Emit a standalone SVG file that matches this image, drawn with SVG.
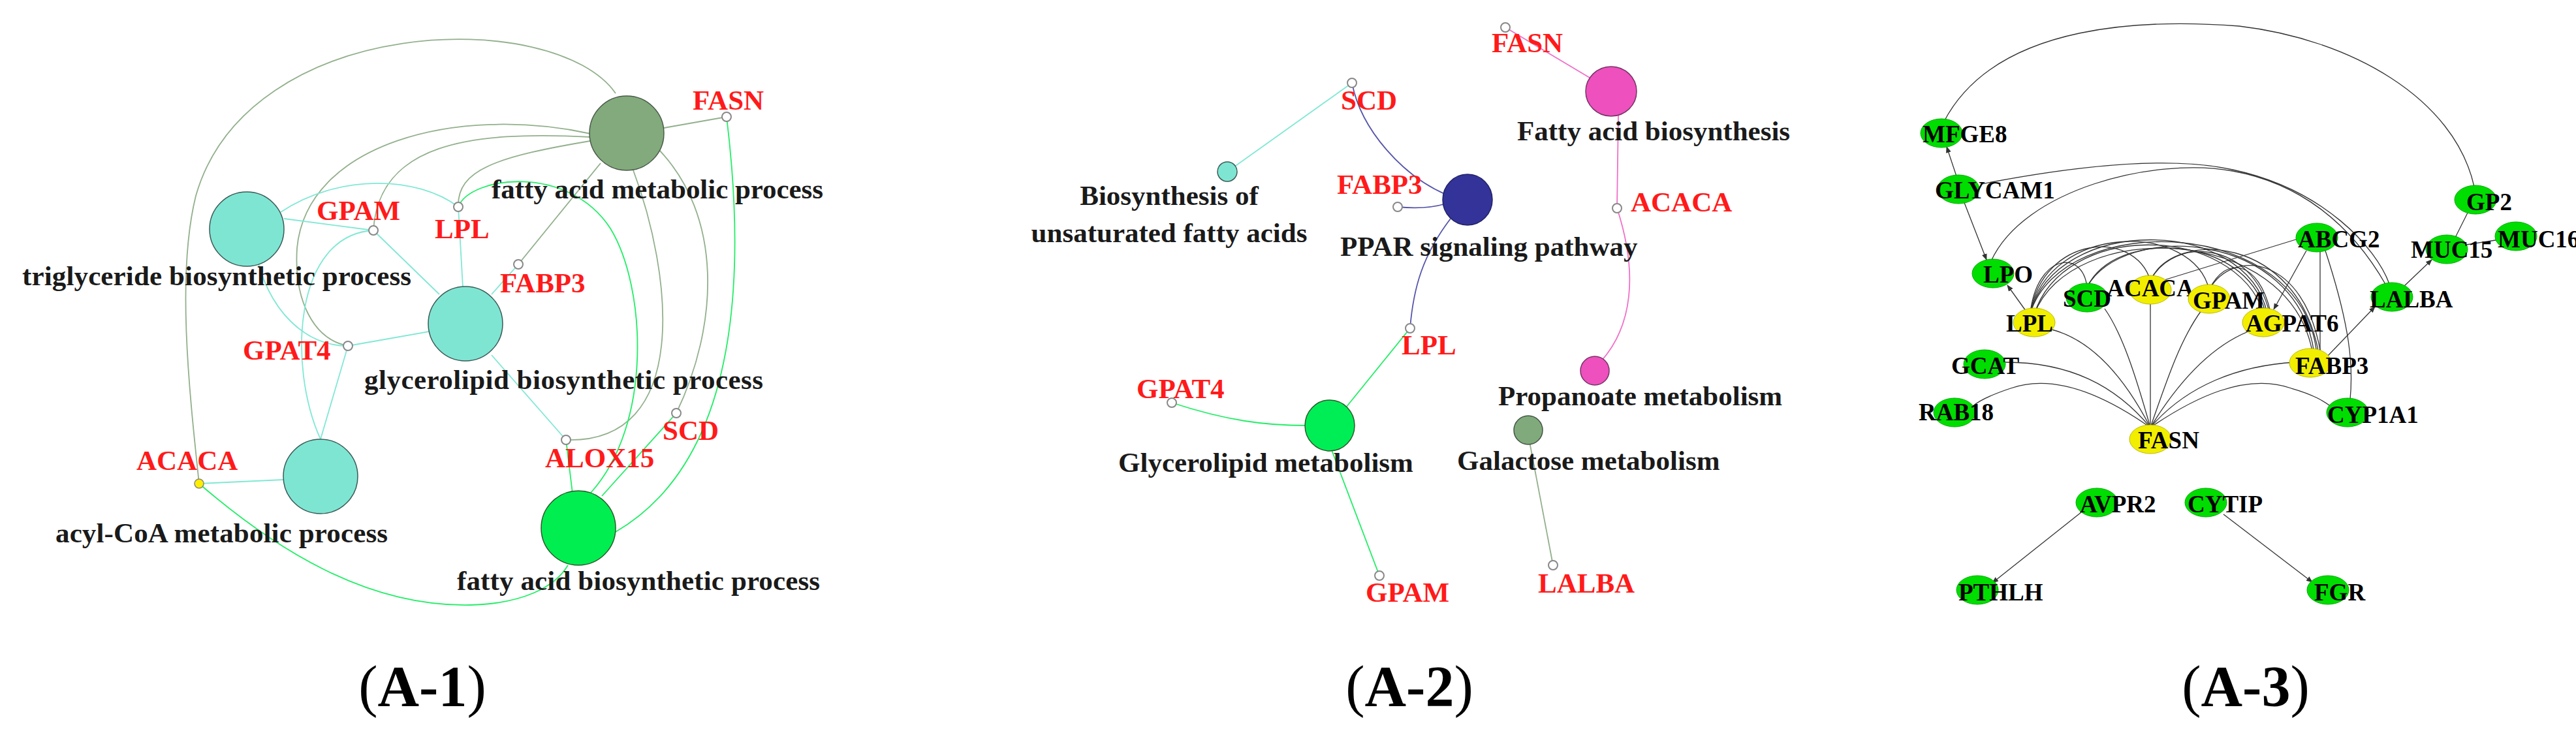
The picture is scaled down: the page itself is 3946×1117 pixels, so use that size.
<svg xmlns="http://www.w3.org/2000/svg" width="3946" height="1117" viewBox="0 0 3946 1117">
<style>
text{font-family:"Liberation Serif","Times New Roman",serif;font-weight:bold}
.t{font-size:43px;fill:#1a1a1a}
.g{font-size:43px;fill:#ff1a1a}
.p{font-size:88px;fill:#000}
.gn{font-size:37px;fill:#000}
.sm{fill:#fff;stroke:#888;stroke-width:2}
.e path,.e line{fill:none;stroke-width:1.8}
.gg{stroke:#92b08c}.tl{stroke:#80e8d4}.gr{stroke:#22ee66}.mg{stroke:#f070c8}.bl{stroke:#5555aa}
.e .k{stroke:#333;stroke-width:1.3;fill:none}
.ge{fill:#00dd00;stroke:#0a0;stroke-width:1}
.ye{fill:#f2ee00;stroke:#bb0;stroke-width:1}
</style>
<defs><marker id="ar" markerWidth="10" markerHeight="10" refX="9" refY="5" orient="auto" markerUnits="userSpaceOnUse"><path d="M0,1 L10,5 L0,9 z" fill="#333"/></marker></defs>
<rect width="3946" height="1117" fill="#fff"/>
<g id="connectors" class="e">
<path class="gg" d="M1017,196 L1113,179"/>
<path class="gg" d="M943,143 C850,10 380,20 300,300 C270,420 290,600 305,741"/>
<path class="gg" d="M905,205 C700,160 470,220 455,380 C450,460 480,520 533,530"/>
<path class="gg" d="M905,210 C720,200 580,220 572,353"/>
<path class="gg" d="M910,215 C760,240 700,260 702,317"/>
<path class="gg" d="M920,250 L794,405"/>
<path class="gg" d="M969,258 C1030,420 1060,680 867,674"/>
<path class="gg" d="M1005,225 C1110,330 1100,500 1036,633"/>
<path class="gr" d="M1113,179 C1140,400 1140,700 943,815"/>
<path class="gr" d="M702,317 C720,270 870,250 935,350 C990,440 1000,650 905,755"/>
<path class="gr" d="M867,674 L877,756"/>
<path class="gr" d="M1036,633 L922,760"/>
<path class="gr" d="M305,741 C420,840 560,930 720,927 C800,925 850,900 870,866"/>
<path class="tl" d="M305,741 L434,735"/>
<path class="tl" d="M435,335 L572,353"/>
<path class="tl" d="M430,325 C520,265 640,270 702,317"/>
<path class="tl" d="M390,380 C410,480 470,530 533,530"/>
<path class="tl" d="M572,353 L673,451"/>
<path class="tl" d="M572,353 C450,360 440,560 491,673"/>
<path class="tl" d="M533,530 L491,673"/>
<path class="tl" d="M533,530 L657,508"/>
<path class="tl" d="M702,317 L709,440"/>
<path class="tl" d="M753,544 L867,674"/>
<path class="tl" d="M753,451 L794,405"/>
<path class="mg" d="M2306,42 L2440,122"/>
<path class="mg" d="M2479,176 L2477,319"/>
<path class="mg" d="M2477,319 C2510,420 2500,500 2453,553"/>
<path class="tl" d="M2071,127 L1890,256"/>
<path class="bl" d="M2071,127 C2085,200 2150,270 2215,298"/>
<path class="bl" d="M2141,317 C2170,320 2195,318 2215,312"/>
<path class="bl" d="M2222,335 C2180,390 2165,440 2160,503"/>
<path class="gr" d="M2160,503 L2062,624"/>
<path class="gr" d="M1795,617 C1880,645 1940,652 2000,652"/>
<path class="gr" d="M2040,690 L2113,882"/>
<path class="gg" d="M2343,677 L2379,866"/>
<path class="k" d="M2978,186 C3060,30 3300,30 3430,40 C3600,60 3760,150 3790,286"/>
<path class="k" d="M2999,276 L2982,225" marker-end="url(#ar)"/>
<path class="k" d="M3008,308 L3043,398" marker-end="url(#ar)"/>
<path class="k" d="M3035,282 C3200,250 3330,240 3420,260 C3560,290 3640,380 3660,435"/>
<path class="k" d="M3050,400 C3100,290 3300,240 3420,262 C3520,280 3600,340 3655,437"/>
<path class="k" d="M3103,476 L3075,437" marker-end="url(#ar)"/>
<path class="k" d="M3110,480 C3120,390 3190,380 3197,440"/>
<path class="k" d="M3110,480 C3130,360 3270,350 3294,430"/>
<path class="k" d="M3110,480 C3140,340 3360,340 3384,444"/>
<path class="k" d="M3110,480 C3150,330 3440,330 3473,480"/>
<path class="k" d="M3110,480 C3160,320 3530,330 3549,544"/>
<path class="k" d="M3116,482 C3160,340 3420,340 3468,480"/>
<path class="k" d="M3116,482 C3170,335 3510,340 3543,544"/>
<path class="k" d="M3197,440 C3240,350 3440,360 3470,478"/>
<path class="k" d="M3197,440 C3250,340 3520,350 3545,542"/>
<path class="k" d="M3294,430 C3330,360 3450,370 3476,478"/>
<path class="k" d="M3294,430 C3330,350 3520,360 3552,542"/>
<path class="k" d="M3384,444 C3420,380 3530,390 3555,542"/>
<path class="k" d="M3384,444 C3410,390 3460,400 3478,478"/>
<path class="k" d="M3520,366 L3312,430"/>
<path class="k" d="M3533,384 L3483,474" marker-end="url(#ar)"/>
<path class="k" d="M3554,384 L3554,536"/>
<path class="k" d="M3562,384 C3600,500 3605,560 3600,612"/>
<path class="k" d="M3782,322 L3761,364"/>
<path class="k" d="M3778,375 L3829,367"/>
<path class="k" d="M3681,440 L3725,398" marker-end="url(#ar)"/>
<path class="k" d="M3566,545 L3638,470" marker-end="url(#ar)"/>
<path class="k" d="M3294,655 C3250,570 3200,520 3143,505"/>
<path class="k" d="M3294,655 C3270,570 3250,510 3224,473"/>
<path class="k" d="M3294,655 L3294,462"/>
<path class="k" d="M3294,655 C3320,580 3340,520 3372,476"/>
<path class="k" d="M3294,655 C3340,580 3390,530 3444,508"/>
<path class="k" d="M3294,655 C3350,590 3430,560 3516,555"/>
<path class="k" d="M3294,655 C3240,590 3170,555 3071,555"/>
<path class="k" d="M3294,655 C3230,610 3150,570 3080,595 C3050,605 3030,615 3021,623"/>
<path class="k" d="M3294,655 C3360,610 3440,570 3510,595 C3545,605 3560,615 3571,623"/>
<path class="k" d="M3188,785 L3052,893" marker-end="url(#ar)"/>
<path class="k" d="M3406,788 L3542,892" marker-end="url(#ar)"/>
</g>
<g id="n-famp"><circle cx="960" cy="204" r="57" fill="#82aa7c" stroke="#4a5a4a" stroke-width="1.5"/><text class="t" x="753" y="304" textLength="508">fatty acid metabolic process</text></g>
<g id="n-fasn1"><circle class="sm" cx="1113" cy="179" r="7"/><text class="g" x="1061" y="168">FASN</text></g>
<g id="n-trig"><circle cx="378" cy="351" r="57" fill="#7fe5d3" stroke="#3a5a55" stroke-width="1.5"/><text class="t" x="34" y="437" textLength="596">triglyceride biosynthetic process</text></g>
<g id="n-gpam1"><circle class="sm" cx="572" cy="353" r="7"/><text class="g" x="485" y="337">GPAM</text></g>
<g id="n-lpl1"><circle class="sm" cx="702" cy="317" r="7"/><text class="g" x="666" y="365">LPL</text></g>
<g id="n-glyc"><circle cx="713" cy="496" r="57" fill="#7fe5d3" stroke="#3a5a55" stroke-width="1.5"/><text class="t" x="558" y="596" textLength="611">glycerolipid biosynthetic process</text></g>
<g id="n-fabp31"><circle class="sm" cx="794" cy="405" r="7"/><text class="g" x="766" y="448">FABP3</text></g>
<g id="n-gpat41"><circle class="sm" cx="533" cy="530" r="7"/><text class="g" x="372" y="551">GPAT4</text></g>
<g id="n-acyl"><circle cx="491" cy="730" r="57" fill="#7fe5d3" stroke="#3a5a55" stroke-width="1.5"/><text class="t" x="85" y="831" textLength="509">acyl-CoA metabolic process</text></g>
<g id="n-acaca1"><circle cx="305" cy="741" r="7" fill="#ffee00" stroke="#887" stroke-width="1.5"/><text class="g" x="209" y="720">ACACA</text></g>
<g id="n-alox15"><circle class="sm" cx="867" cy="674" r="7"/><text class="g" x="835" y="716">ALOX15</text></g>
<g id="n-scd1"><circle class="sm" cx="1036" cy="633" r="7"/><text class="g" x="1015" y="674">SCD</text></g>
<g id="n-fab"><circle cx="886" cy="809" r="57" fill="#00ee50" stroke="#2a5a2a" stroke-width="1.5"/><text class="t" x="700" y="904" textLength="556">fatty acid biosynthetic process</text></g>
<text class="p" x="647" y="1081" text-anchor="middle"><tspan font-weight="normal">(</tspan>A-1<tspan font-weight="normal">)</tspan></text>
<g id="n-fasn2"><circle class="sm" cx="2306" cy="42" r="7"/><text class="g" x="2285" y="80">FASN</text></g>
<g id="n-fabio"><ellipse cx="2468" cy="140" rx="39" ry="38" fill="#ee50bd" stroke="#773366" stroke-width="1.5"/><text class="t" x="2324" y="215">Fatty acid biosynthesis</text></g>
<g id="n-acaca2"><circle class="sm" cx="2477" cy="319" r="7"/><text class="g" x="2498" y="324">ACACA</text></g>
<g id="n-prop"><circle cx="2443" cy="568" r="22" fill="#ee50bd" stroke="#773366" stroke-width="1.5"/><text class="t" x="2295" y="621">Propanoate metabolism</text></g>
<g id="n-gal"><circle cx="2341" cy="659" r="22" fill="#80aa7c" stroke="#445544" stroke-width="1.5"/><text class="t" x="2232" y="720">Galactose metabolism</text></g>
<g id="n-lalba2"><circle class="sm" cx="2379" cy="866" r="7"/><text class="g" x="2356" y="908">LALBA</text></g>
<g id="n-scd2"><circle class="sm" cx="2071" cy="127" r="7"/><text class="g" x="2054" y="168">SCD</text></g>
<g id="n-bios"><circle cx="1880" cy="263" r="15" fill="#7fe5d3" stroke="#3a5a55" stroke-width="1.5"/><text class="t" x="1791" y="314" text-anchor="middle">Biosynthesis of</text><text class="t" x="1791" y="371" text-anchor="middle">unsaturated fatty acids</text></g>
<g id="n-ppar"><ellipse cx="2248" cy="306" rx="38" ry="39" fill="#333399" stroke="#222266" stroke-width="1.5"/><text class="t" x="2053" y="392">PPAR signaling pathway</text></g>
<g id="n-fabp32"><circle class="sm" cx="2141" cy="317" r="7"/><text class="g" x="2048" y="297">FABP3</text></g>
<g id="n-lpl2"><circle class="sm" cx="2160" cy="503" r="7"/><text class="g" x="2147" y="543">LPL</text></g>
<g id="n-gpat42"><circle class="sm" cx="1795" cy="617" r="7"/><text class="g" x="1741" y="610">GPAT4</text></g>
<g id="n-glm"><ellipse cx="2037" cy="652" rx="38" ry="39" fill="#00ee55" stroke="#2a5a2a" stroke-width="1.5"/><text class="t" x="1713" y="723">Glycerolipid metabolism</text></g>
<g id="n-gpam2"><circle class="sm" cx="2113" cy="882" r="7"/><text class="g" x="2092" y="922">GPAM</text></g>
<text class="p" x="2159" y="1081" text-anchor="middle"><tspan font-weight="normal">(</tspan>A-2<tspan font-weight="normal">)</tspan></text>
<g id="m-mfge8"><ellipse class="ge" cx="2974" cy="204" rx="32" ry="22"/><text class="gn" x="2945" y="218">MFGE8</text></g>
<g id="m-glycam1"><ellipse class="ge" cx="3000" cy="290" rx="32" ry="22"/><text class="gn" x="2964" y="304">GLYCAM1</text></g>
<g id="m-lpo"><ellipse class="ge" cx="3053" cy="419" rx="32" ry="22"/><text class="gn" x="3038" y="433">LPO</text></g>
<g id="m-lpl"><ellipse class="ye" cx="3116" cy="494" rx="32" ry="22"/><text class="gn" x="3073" y="508">LPL</text></g>
<g id="m-scd"><ellipse class="ge" cx="3197" cy="456" rx="32" ry="22"/><text class="gn" x="3160" y="470">SCD</text></g>
<g id="m-acaca"><ellipse class="ye" cx="3294" cy="444" rx="32" ry="22"/><text class="gn" x="3294" y="454" font-size="24" text-anchor="middle">ACACA</text></g>
<g id="m-gpam"><ellipse class="ye" cx="3384" cy="458" rx="32" ry="22"/><text class="gn" x="3359" y="473">GPAM</text></g>
<g id="m-agpat6"><ellipse class="ye" cx="3467" cy="494" rx="32" ry="22"/><text class="gn" x="3440" y="508">AGPAT6</text></g>
<g id="m-abcg2"><ellipse class="ge" cx="3549" cy="364" rx="32" ry="22"/><text class="gn" x="3520" y="379">ABCG2</text></g>
<g id="m-gp2"><ellipse class="ge" cx="3792" cy="306" rx="32" ry="22"/><text class="gn" x="3778" y="322">GP2</text></g>
<g id="m-muc15"><ellipse class="ge" cx="3748" cy="382" rx="32" ry="22"/><text class="gn" x="3693" y="395">MUC15</text></g>
<g id="m-muc16"><ellipse class="ge" cx="3854" cy="362" rx="32" ry="22"/><text class="gn" x="3826" y="379" font-size="33">MUC16</text></g>
<g id="m-lalba"><ellipse class="ge" cx="3664" cy="455" rx="32" ry="22"/><text class="gn" x="3630" y="471">LALBA</text></g>
<g id="m-fabp3"><ellipse class="ye" cx="3539" cy="556" rx="32" ry="22"/><text class="gn" x="3516" y="573">FABP3</text></g>
<g id="m-gcat"><ellipse class="ge" cx="3040" cy="558" rx="32" ry="22"/><text class="gn" x="2989" y="573">GCAT</text></g>
<g id="m-rab18"><ellipse class="ge" cx="2994" cy="632" rx="32" ry="22"/><text class="gn" x="2939" y="644">RAB18</text></g>
<g id="m-cyp1a1"><ellipse class="ge" cx="3596" cy="632" rx="32" ry="22"/><text class="gn" x="3565" y="648">CYP1A1</text></g>
<g id="m-fasn"><ellipse class="ye" cx="3294" cy="673" rx="32" ry="22"/><text class="gn" x="3275" y="687">FASN</text></g>
<g id="m-avpr2"><ellipse class="ge" cx="3212" cy="770" rx="32" ry="22"/><text class="gn" x="3186" y="785">AVPR2</text></g>
<g id="m-cytip"><ellipse class="ge" cx="3379" cy="770" rx="32" ry="22"/><text class="gn" x="3351" y="785">CYTIP</text></g>
<g id="m-pthlh"><ellipse class="ge" cx="3029" cy="904" rx="32" ry="22"/><text class="gn" x="3000" y="920">PTHLH</text></g>
<g id="m-fgr"><ellipse class="ge" cx="3566" cy="904" rx="32" ry="22"/><text class="gn" x="3545" y="920">FGR</text></g>
<text class="p" x="3440" y="1081" text-anchor="middle"><tspan font-weight="normal">(</tspan>A-3<tspan font-weight="normal">)</tspan></text>
</svg>
